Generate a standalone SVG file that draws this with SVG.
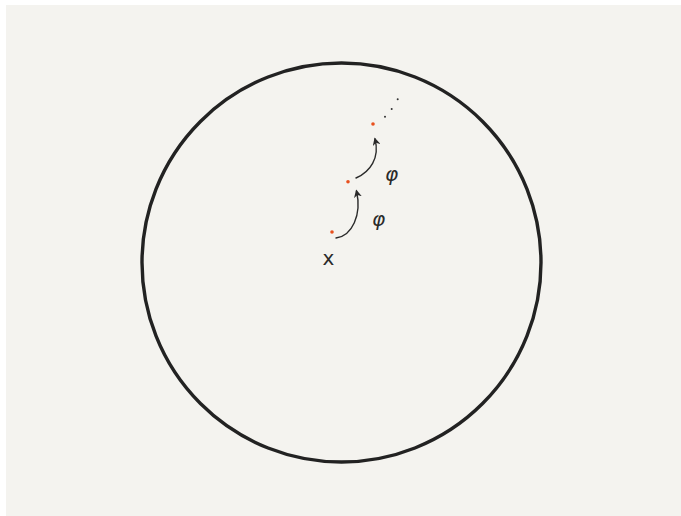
<svg xmlns="http://www.w3.org/2000/svg" width="681" height="516" viewBox="0 0 681 516">
<style>
.conn{fill:none;stroke:#2a2a2a;stroke-width:1.4;stroke-linecap:round}
.pt{fill:#e8501e}
.dot{fill:#333}
.lbl{font-family:"DejaVu Sans",sans-serif;fill:#2a2a2a}
</style>
<defs>
<marker id="ah" viewBox="0 0 10 10" refX="8" refY="5" markerWidth="8" markerHeight="8" orient="auto-start-reverse" markerUnits="userSpaceOnUse">
<path d="M0,0 L10,5 L0,10 L3,5 Z" fill="#2a2a2a"/>
</marker>
</defs>
<rect x="6" y="5" width="675" height="511" fill="#f4f3ef"/>
<g id="circle"><circle cx="341.5" cy="262.5" r="199.5" fill="none" stroke="#222" stroke-width="3.4"/></g>
<g id="points">
<circle class="pt" cx="332" cy="232" r="1.8"/>
<circle class="pt" cx="348" cy="181.7" r="1.8"/>
<circle class="pt" cx="373" cy="124" r="1.8"/>
<circle class="dot" cx="385" cy="116.7" r="1"/>
<circle class="dot" cx="391.7" cy="109" r="1"/>
<circle class="dot" cx="397.7" cy="99.3" r="1"/>
</g>
<g id="connectors">
<path class="conn" d="M336,238 C352,236 362,215 356.5,191" marker-end="url(#ah)"/>
<path class="conn" d="M356,178 C370,172 380,158 375,139" marker-end="url(#ah)"/>
</g>
<g id="labels">
<text class="lbl" x="328.5" y="265" font-size="20" text-anchor="middle">x</text>
<text class="lbl" x="391.5" y="181" font-size="20" font-style="italic" text-anchor="middle">φ</text>
<text class="lbl" x="378.5" y="226" font-size="20" font-style="italic" text-anchor="middle">φ</text>
</g>
</svg>
